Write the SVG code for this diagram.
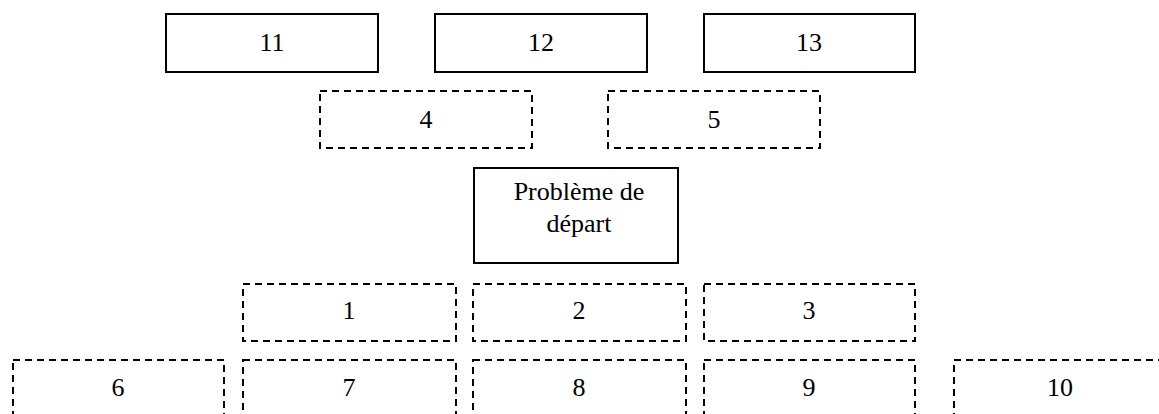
<svg xmlns="http://www.w3.org/2000/svg" width="1159" height="414" viewBox="0 0 1159 414">
<style>
.box{fill:#fff;stroke:#000;stroke-width:2}
.dash{fill:#fff;stroke:#000;stroke-width:2;stroke-dasharray:7,5}
text{font-family:"Liberation Serif","Times New Roman",serif;font-size:26px;fill:#000;text-anchor:middle}
</style>
<rect width="1159" height="414" fill="#fff"/>
<g id="n11"><rect class="box" x="166" y="14" width="212" height="58"/><text x="272" y="51">11</text></g>
<g id="n12"><rect class="box" x="435" y="14" width="212" height="58"/><text x="541" y="51">12</text></g>
<g id="n13"><rect class="box" x="704" y="14" width="211" height="58"/><text x="809" y="51">13</text></g>
<g id="n4"><rect class="dash" x="320" y="91" width="212" height="57"/><text x="426" y="128">4</text></g>
<g id="n5"><rect class="dash" x="608" y="91" width="212" height="57"/><text x="714" y="128">5</text></g>
<g id="start"><rect class="box" x="474" y="168" width="204" height="95"/><text x="579" y="200">Problème de</text><text x="579" y="232">départ</text></g>
<g id="n1"><rect class="dash" x="243" y="284" width="213" height="57"/><text x="349" y="319">1</text></g>
<g id="n2"><rect class="dash" x="473" y="284" width="213" height="57"/><text x="579" y="319">2</text></g>
<g id="n3"><rect class="dash" x="704" y="284" width="211" height="57"/><text x="809" y="319">3</text></g>
<g id="n6"><rect class="dash" x="13" y="360" width="211" height="70"/><text x="118" y="396">6</text></g>
<g id="n7"><rect class="dash" x="243" y="360" width="213" height="70"/><text x="349" y="396">7</text></g>
<g id="n8"><rect class="dash" x="473" y="360" width="213" height="70"/><text x="579" y="396">8</text></g>
<g id="n9"><rect class="dash" x="704" y="360" width="211" height="70"/><text x="809" y="396">9</text></g>
<g id="n10"><rect class="dash" x="954" y="360" width="212" height="70"/><text x="1060" y="396">10</text></g>
<g id="connectors"></g>
</svg>
